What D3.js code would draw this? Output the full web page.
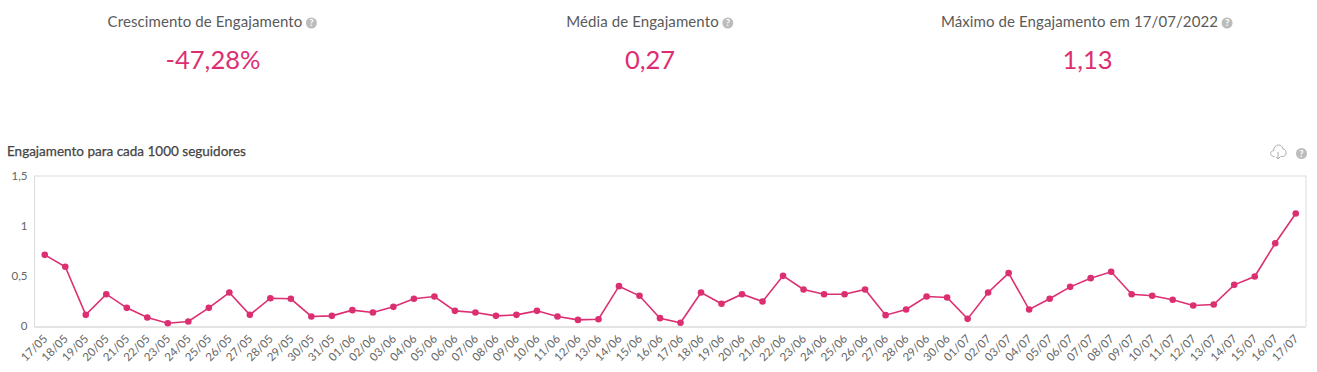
<!DOCTYPE html>
<html><head><meta charset="utf-8">
<script src="https://cdn.jsdelivr.net/npm/d3@7"></script>
<style>html,body{margin:0;padding:0;background:#fff}svg{display:block}text{font-family:Lato,sans-serif}</style>
</head><body><svg id="c" width="1317" height="372"></svg>
<script>
const dates=["17/05","18/05","19/05","20/05","21/05","22/05","23/05","24/05","25/05","26/05","27/05","28/05","29/05","30/05","31/05","01/06","02/06","03/06","04/06","05/06","06/06","07/06","08/06","09/06","10/06","11/06","12/06","13/06","14/06","15/06","16/06","17/06","18/06","19/06","20/06","21/06","22/06","23/06","24/06","25/06","26/06","27/06","28/06","29/06","30/06","01/07","02/07","03/07","04/07","05/07","06/07","07/07","08/07","09/07","10/07","11/07","12/07","13/07","14/07","15/07","16/07","17/07"];
const values=[0.714,0.595,0.116,0.322,0.186,0.09,0.033,0.05,0.186,0.339,0.116,0.282,0.276,0.10,0.106,0.163,0.14,0.196,0.276,0.299,0.156,0.14,0.106,0.116,0.156,0.10,0.066,0.073,0.402,0.306,0.083,0.037,0.339,0.226,0.322,0.249,0.505,0.369,0.322,0.322,0.369,0.113,0.169,0.299,0.289,0.076,0.339,0.532,0.169,0.276,0.395,0.482,0.545,0.322,0.306,0.266,0.209,0.219,0.415,0.498,0.83,1.126];
const yTicks=[0,0.5,1,1.5];
const yTickLabels=["0","0,5","1","1,5"];
const kpiTitles=["Crescimento de Engajamento","Média de Engajamento","Máximo de Engajamento em 17/07/2022"];
const kpiValues=["-47,28%","0,27","1,13"];
const kpiTitleCenters=[205,642.5,1079.5];
const kpiValueCenters=[213,650,1087.5];
const chartTitle="Engajamento para cada 1000 seguidores";
const pink="#dc2f72";
const svg=d3.select("#c");
const L=34.5,R=1306,T=176,B=326.5;
const x=d3.scalePoint().domain(d3.range(dates.length)).range([L,R]).padding(0.5);
const y=d3.scaleLinear().domain([0,1.5]).range([B,T]);

function help(g,cx,cy,r){
  g.append("circle").attr("cx",cx).attr("cy",cy).attr("r",r).attr("fill","#bcbcbc");
  g.append("text").attr("x",cx).attr("y",cy+r*0.62).attr("text-anchor","middle").attr("font-size",r*1.7).attr("font-weight",700).attr("fill","#fff").text("?");
}
kpiTitles.forEach((t,i)=>{
  const g=svg.append("g");
  const tt=g.append("text").attr("x",kpiTitleCenters[i]).attr("y",27).attr("text-anchor","middle").attr("font-size",15).attr("letter-spacing",0.1).attr("fill","#5a5a5a").text(t);
  const w=tt.node().getComputedTextLength();
  help(g,kpiTitleCenters[i]+w/2+9,23,5.5);
  g.append("text").attr("x",kpiValueCenters[i]).attr("y",69).attr("text-anchor","middle").attr("font-size",25.5).attr("fill",pink).text(kpiValues[i]);
});
svg.append("text").attr("x",7).attr("y",156).attr("font-size",13.5).attr("fill","#444").attr("stroke","#444").attr("stroke-width",0.25).text(chartTitle);

// download icon
const ic=svg.append("g").attr("transform","translate(1270,144)").attr("fill","none").attr("stroke","#aaa").attr("stroke-width",1);
ic.append("path").attr("d","M4.5 12.5 C1 12.5 0 10 1 8.2 C1.6 7 3 6.6 3.6 6.8 C3.6 3 6.3 1 8.5 1 C11 1 12.6 3 13 5 C15 5 16 7 16 8.8 C16 11 14.5 12.5 12.5 12.5 L10.5 12.5");
ic.append("path").attr("d","M8 8 L8 15 M6 13 L8 15 L10 13");
help(svg.append("g"),1301.5,153.5,5.5);

// frame
svg.append("rect").attr("x",L).attr("y",T).attr("width",R-L).attr("height",B-T).attr("fill","none").attr("stroke","#dcdcdc").attr("stroke-width",1);
svg.append("line").attr("x1",L).attr("x2",R).attr("y1",B+0.5).attr("y2",B+0.5).attr("stroke","#e4e4e4").attr("stroke-width",2);

// y axis
const yAxis=d3.axisLeft(y).tickValues(yTicks).tickFormat((d,i)=>yTickLabels[i]).tickSize(0).tickPadding(6);
const gy=svg.append("g").attr("transform",`translate(${L-1},0)`).call(yAxis);
gy.select(".domain").remove();
gy.selectAll("text").attr("font-size",11.5).attr("font-family","Lato,sans-serif").attr("fill","#666").attr("dy",null).attr("y",0.5).attr("dominant-baseline","middle");

// x axis
const xAxis=d3.axisBottom(x).tickFormat(i=>dates[i]).tickSize(0);
const gx=svg.append("g").attr("transform",`translate(0,${B})`).call(xAxis);
gx.select(".domain").remove();
gx.selectAll("text").attr("font-size",11.5).attr("font-family","Lato,sans-serif").attr("fill","#666")
  .attr("text-anchor","end").attr("dy",null).attr("y",0).attr("x",0)
  .attr("transform","translate(3,13) rotate(-45)");

const line=d3.line().x((d,i)=>x(i)).y(d=>y(d));
svg.append("path").datum(values).attr("d",line).attr("fill","none").attr("stroke",pink).attr("stroke-width",1.6);
svg.append("g").selectAll("circle").data(values).join("circle").attr("cx",(d,i)=>x(i)).attr("cy",d=>y(d)).attr("r",3.3).attr("fill",pink);
</script></body></html>
